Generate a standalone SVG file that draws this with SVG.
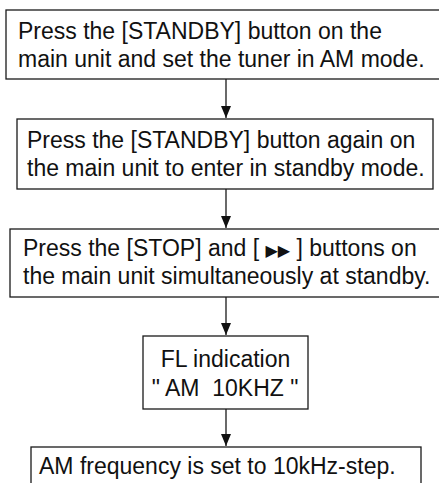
<svg xmlns="http://www.w3.org/2000/svg" width="439" height="483" viewBox="0 0 439 483">
<style>
.box{fill:#fff;stroke:#1a1a1a;stroke-width:1.3}
.t{font-family:"Liberation Sans",Arial,sans-serif;font-size:23px;fill:#111}
.c{text-anchor:middle}
.conn{stroke:#1a1a1a;stroke-width:1.3;fill:none}
</style>
<defs>
<marker id="ah" markerWidth="12" markerHeight="10" refX="12" refY="5" orient="auto" markerUnits="userSpaceOnUse" viewBox="0 0 12 10">
<path d="M0,0 L12,5 L0,10 Z" fill="#111"/>
</marker>
</defs>
<rect width="439" height="483" fill="#fff"/>
<g id="connectors">
<line class="conn" x1="226" y1="79" x2="226" y2="118" marker-end="url(#ah)"/>
<line class="conn" x1="226" y1="189" x2="226" y2="228" marker-end="url(#ah)"/>
<line class="conn" x1="226" y1="297" x2="226" y2="335" marker-end="url(#ah)"/>
<line class="conn" x1="226" y1="409" x2="226" y2="446" marker-end="url(#ah)"/>
</g>
<g id="step1">
<rect class="box" x="6" y="10" width="445" height="69"/>
<text class="t" x="18" y="39">Press the [STANDBY] button on the</text>
<text class="t" x="18" y="67">main unit and set the tuner in AM mode.</text>
</g>
<g id="step2">
<rect class="box" x="17" y="119" width="416" height="70"/>
<text class="t" x="27" y="148">Press the [STANDBY] button again on</text>
<text class="t" x="27" y="176">the main unit to enter in standby mode.</text>
</g>
<g id="step3">
<rect class="box" x="10" y="229" width="445" height="68"/>
<text class="t" x="23" y="256">Press the [STOP] and [ <tspan font-size="16" font-family="DejaVu Sans, sans-serif">▶▶</tspan> ] buttons on</text>
<text class="t" x="23" y="284">the main unit simultaneously at standby.</text>
</g>
<g id="fl">
<rect class="box" x="143" y="336" width="165" height="73"/>
<text class="t c" x="225.5" y="367">FL indication</text>
<text class="t c" x="225" y="396">" AM&#160; 10KHZ "</text>
</g>
<g id="result">
<rect class="box" x="31" y="447" width="390" height="60"/>
<text class="t" x="39" y="474">AM frequency is set to 10kHz-step.</text>
</g>
</svg>
